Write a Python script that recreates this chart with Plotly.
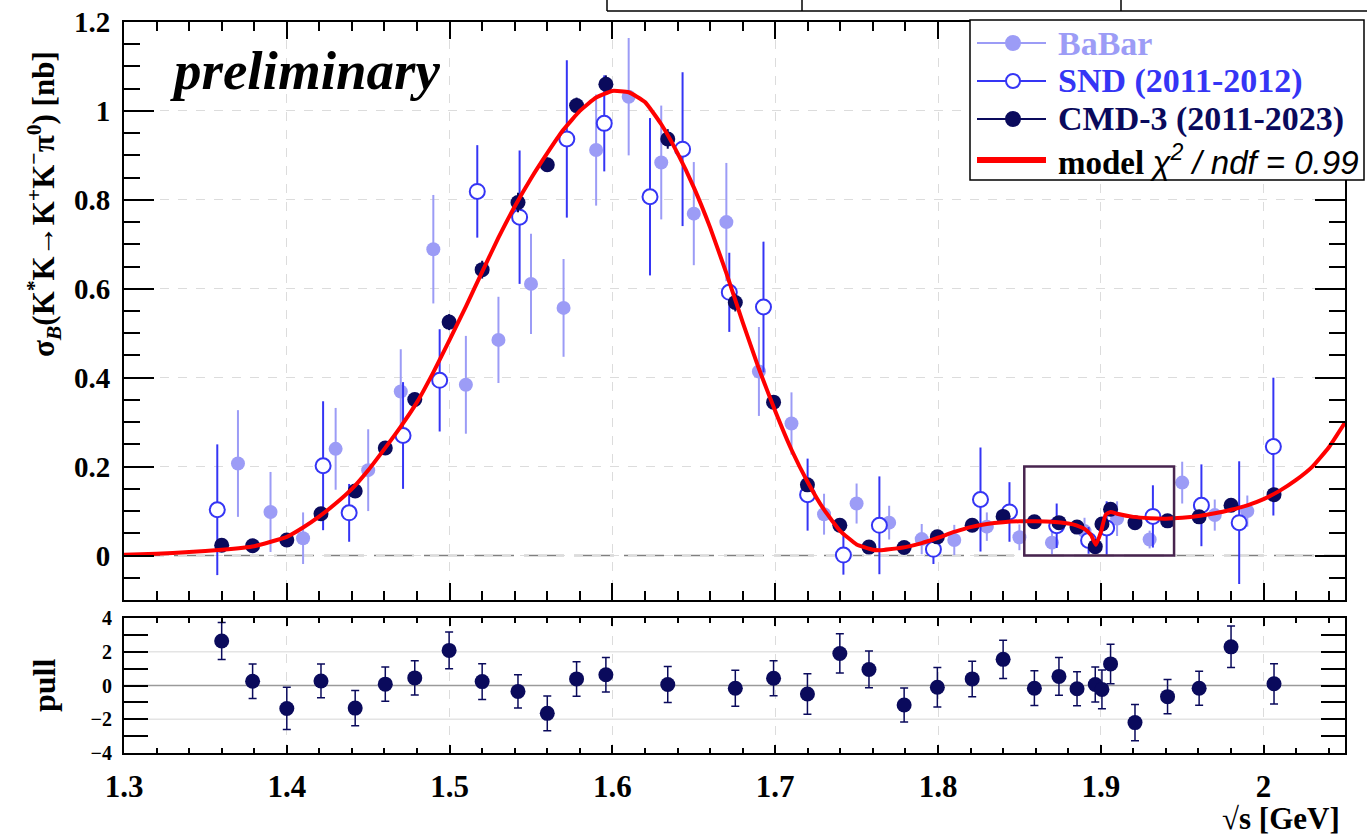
import plotly.graph_objects as go

# ---------------- data ----------------
# CMD-3 (2011-2023) cross section [nb]
cmd_x = [1.360, 1.379, 1.400, 1.421, 1.442, 1.4605, 1.4786, 1.4997, 1.520, 1.542,
         1.560, 1.578, 1.596, 1.634, 1.6755, 1.699, 1.7198, 1.7397, 1.7576, 1.7792,
         1.7996, 1.821, 1.840, 1.8592, 1.8743, 1.8854, 1.8966, 1.9007, 1.906, 1.921,
         1.941, 1.9604, 1.980, 2.0064]
cmd_y = [0.023, 0.022, 0.035, 0.094, 0.145, 0.242, 0.351, 0.525, 0.643, 0.794,
         0.879, 1.012, 1.060, 0.937, 0.569, 0.345, 0.159, 0.068, 0.019, 0.018,
         0.042, 0.068, 0.088, 0.076, 0.074, 0.064, 0.020, 0.071, 0.104, 0.074,
         0.078, 0.087, 0.113, 0.137]
cmd_err = [0.004, 0.008, 0.006, 0.010, 0.012, 0.012, 0.015, 0.018, 0.020, 0.022,
           0.016, 0.018, 0.020, 0.022, 0.020, 0.015, 0.012, 0.008, 0.006, 0.005,
           0.006, 0.008, 0.009, 0.008, 0.008, 0.009, 0.008, 0.010, 0.010, 0.008,
           0.009, 0.010, 0.012, 0.014]

# pulls of CMD-3 points with respect to the model
pull_y = [2.64, 0.25, -1.36, 0.27, -1.34, 0.08, 0.45, 2.08, 0.23, -0.35,
          -1.65, 0.39, 0.64, 0.06, -0.16, 0.43, -0.50, 1.90, 0.95, -1.16,
          -0.10, 0.39, 1.55, -0.16, 0.54, -0.19, 0.06, -0.23, 1.28, -2.20,
          -0.66, -0.16, 2.29, 0.10]
pull_err = [1.10, 1.02, 1.25, 1.00, 1.04, 1.02, 1.01, 1.09, 1.06, 0.99,
            1.03, 1.02, 1.02, 1.07, 1.07, 1.04, 1.20, 1.16, 1.09, 1.01,
            1.17, 1.05, 1.13, 1.03, 1.12, 1.01, 1.04, 1.15, 1.17, 1.08,
            1.02, 1.01, 1.23, 1.19]

# SND (2011-2012)
snd_x = [1.3573, 1.4223, 1.4383, 1.4714, 1.4939, 1.517, 1.543, 1.572, 1.595, 1.6231,
         1.6431, 1.6718, 1.6928, 1.7199, 1.7419, 1.764, 1.7972, 1.8261, 1.8439, 1.8729,
         1.8925, 1.9036, 1.932, 1.9618, 1.985, 2.006]
snd_y = [0.103, 0.202, 0.096, 0.270, 0.394, 0.819, 0.761, 0.937, 0.972, 0.807,
         0.914, 0.592, 0.559, 0.137, 0.001, 0.068, 0.014, 0.126, 0.098, 0.067,
         0.034, 0.062, 0.088, 0.113, 0.074, 0.245]
snd_err = [0.147, 0.145, 0.065, 0.120, 0.115, 0.104, 0.150, 0.177, 0.108, 0.177,
           0.173, 0.089, 0.147, 0.081, 0.044, 0.110, 0.033, 0.117, 0.067, 0.050,
           0.030, 0.060, 0.070, 0.092, 0.138, 0.155]

# BaBar
babar_x = [1.37, 1.39, 1.41, 1.43, 1.45, 1.47, 1.49, 1.51, 1.53, 1.55,
           1.57, 1.59, 1.61, 1.63, 1.65, 1.67, 1.69, 1.71, 1.73, 1.75,
           1.77, 1.79, 1.81, 1.83, 1.85, 1.87, 1.89, 1.91, 1.93, 1.95,
           1.97, 1.99]
babar_y = [0.207, 0.098, 0.039, 0.240, 0.192, 0.369, 0.689, 0.384, 0.485, 0.611,
           0.557, 0.912, 1.032, 0.884, 0.769, 0.750, 0.414, 0.297, 0.093, 0.117,
           0.074, 0.037, 0.035, 0.065, 0.041, 0.029, 0.055, 0.083, 0.036, 0.164,
           0.091, 0.100]
babar_err = [0.120, 0.090, 0.058, 0.092, 0.092, 0.095, 0.122, 0.110, 0.097, 0.113,
             0.110, 0.125, 0.132, 0.128, 0.116, 0.133, 0.100, 0.070, 0.046, 0.045,
             0.038, 0.034, 0.034, 0.032, 0.029, 0.026, 0.030, 0.039, 0.020, 0.047,
             0.035, 0.035]

# model curve
model_x = [1.30, 1.32, 1.34, 1.36, 1.38, 1.40, 1.41, 1.42, 1.43, 1.44,
           1.45, 1.46, 1.47, 1.48, 1.49, 1.50, 1.51, 1.52, 1.53, 1.54,
           1.55, 1.56, 1.57, 1.58, 1.59, 1.60, 1.61, 1.62, 1.63, 1.64,
           1.65, 1.66, 1.67, 1.68, 1.69, 1.70, 1.71, 1.72, 1.73, 1.74,
           1.75, 1.76, 1.765, 1.77, 1.78, 1.79, 1.80, 1.81, 1.82, 1.83,
           1.84, 1.85, 1.86, 1.87, 1.88, 1.885, 1.89, 1.894, 1.897, 1.900,
           1.903, 1.906, 1.91, 1.92, 1.93, 1.94, 1.95, 1.96, 1.97, 1.98,
           1.99, 2.00, 2.01, 2.02, 2.03, 2.04, 2.05]
model_y = [0.0015, 0.004, 0.008, 0.013, 0.021, 0.042, 0.063, 0.088, 0.117, 0.150,
           0.192, 0.240, 0.290, 0.345, 0.412, 0.485, 0.560, 0.638, 0.715, 0.785,
           0.848, 0.905, 0.958, 1.000, 1.030, 1.045, 1.042, 1.020, 0.970, 0.905,
           0.828, 0.738, 0.635, 0.525, 0.420, 0.325, 0.238, 0.165, 0.103, 0.055,
           0.025, 0.013, 0.012, 0.014, 0.019, 0.028, 0.040, 0.053, 0.064, 0.071,
           0.075, 0.077, 0.077, 0.076, 0.072, 0.068, 0.060, 0.046, 0.024, 0.052,
           0.092, 0.098, 0.094, 0.087, 0.084, 0.083, 0.085, 0.089, 0.095, 0.103,
           0.113, 0.127, 0.146, 0.170, 0.200, 0.243, 0.299]

# highlighted region around the dip
box_x = [1.853, 1.945]
box_y = [0.0, 0.2]

# ---------------- styling ----------------
W, H = 1367, 836
C_BABAR = "#9c9cf6"
C_SND = "#3535f5"
C_CMD = "#0a0a5c"
C_MODEL = "#ff0000"
SERIF = "Liberation Serif, Times New Roman, serif"


def px(xp):
    return xp / W


def py(yp):
    return 1 - yp / H


fig = go.Figure()

fig.add_trace(go.Scatter(
    x=babar_x, y=babar_y, mode="markers", xaxis="x", yaxis="y",
    error_y=dict(type="data", array=babar_err, color=C_BABAR, thickness=2, width=0),
    marker=dict(color=C_BABAR, size=14), showlegend=False))

fig.add_trace(go.Scatter(
    x=snd_x, y=snd_y, mode="markers", xaxis="x", yaxis="y",
    error_y=dict(type="data", array=snd_err, color=C_SND, thickness=2, width=0),
    marker=dict(color="white", size=15, line=dict(color=C_SND, width=2)),
    showlegend=False))

fig.add_trace(go.Scatter(
    x=cmd_x, y=cmd_y, mode="markers", xaxis="x", yaxis="y",
    error_y=dict(type="data", array=cmd_err, color=C_CMD, thickness=2, width=0),
    marker=dict(color=C_CMD, size=15), showlegend=False))

fig.add_trace(go.Scatter(
    x=model_x, y=model_y, mode="lines", xaxis="x", yaxis="y",
    line=dict(color=C_MODEL, width=4, shape="spline", smoothing=0.4),
    showlegend=False))

fig.add_trace(go.Scatter(
    x=cmd_x, y=pull_y, mode="markers", xaxis="x2", yaxis="y2",
    error_y=dict(type="data", array=pull_err, color=C_CMD, thickness=1.5, width=4),
    marker=dict(color=C_CMD, size=15), showlegend=False))

x_dom = [px(124), px(1345)]
axis_common = dict(
    showline=True, linecolor="black", linewidth=2, mirror="allticks",
    ticks="inside", tickcolor="black", tickwidth=2, zeroline=False,
    automargin=False,
    tickfont=dict(family=SERIF, size=29, color="black", weight="bold"),
)

fig.update_layout(
    width=W, height=H, margin=dict(l=0, r=0, t=0, b=0, pad=0, autoexpand=False),
    paper_bgcolor="white", plot_bgcolor="white",
    xaxis=dict(domain=x_dom, anchor="y", range=[1.3, 2.05], dtick=0.1, tick0=1.3,
               ticklen=17, showticklabels=False,
               showgrid=True, gridcolor="#dcdcdc", griddash="dash", gridwidth=1,
               minor=dict(dtick=0.02, tick0=1.3, ticks="inside", ticklen=9,
                          tickwidth=1.5, tickcolor="black", showgrid=False),
               **axis_common),
    yaxis=dict(domain=[py(600), py(22)], anchor="x", range=[-0.1, 1.2],
               tickvals=[0, 0.2, 0.4, 0.6, 0.8, 1.0, 1.2], ticklen=30,
               ticklabelstandoff=6,
               showgrid=True, gridcolor="#dcdcdc", griddash="dash", gridwidth=1,
               minor=dict(dtick=0.05, tick0=0, ticks="inside", ticklen=16,
                          tickwidth=1.5, tickcolor="black", showgrid=False),
               **axis_common),
    xaxis2=dict(domain=x_dom, anchor="y2", range=[1.3, 2.05], dtick=0.1, tick0=1.3,
                ticklen=8, ticklabelstandoff=5,
                showgrid=True, gridcolor="#dcdcdc", griddash="dash", gridwidth=1,
                minor=dict(dtick=0.02, tick0=1.3, ticks="inside", ticklen=5,
                           tickwidth=1.5, tickcolor="black", showgrid=False),
                **axis_common),
    yaxis2=dict(domain=[py(753), py(618)], anchor="x2", range=[-4, 4],
                tickvals=[-4, -2, 0, 2, 4], ticklen=24, ticklabelstandoff=6,
                showgrid=False,
                minor=dict(dtick=1, tick0=0, ticks="inside", ticklen=24,
                           tickwidth=1.5, tickcolor="black", showgrid=False),
                **axis_common),
)
fig.layout.xaxis2.tickfont.size = 31
fig.layout.yaxis2.tickfont.size = 20

shapes = []
# dashed zero line of the cross-section panel
shapes.append(dict(type="line", xref="x domain", yref="y", x0=0, x1=1, y0=0, y1=0,
                   line=dict(color="#808080", width=1.5, dash="40px,10px"), layer="below"))
# pull panel reference lines
for v, col in [(2, "#e4e4e4"), (-2, "#e4e4e4"), (0, "#9a9a9a")]:
    shapes.append(dict(type="line", xref="x2 domain", yref="y2", x0=0, x1=1, y0=v, y1=v,
                       line=dict(color=col, width=1.5), layer="below"))
# region around the dip
shapes.append(dict(type="rect", xref="x", yref="y", x0=box_x[0], x1=box_x[1],
                   y0=box_y[0], y1=box_y[1], line=dict(color="#48254f", width=2.5),
                   fillcolor="rgba(0,0,0,0)", layer="above"))

# table edge along the top of the page
shapes.append(dict(type="line", xref="paper", yref="paper", x0=px(607), x1=1,
                   y0=py(11), y1=py(11), line=dict(color="black", width=1.5)))
for xv in [607, 802, 1121]:
    shapes.append(dict(type="line", xref="paper", yref="paper", x0=px(xv), x1=px(xv),
                       y0=py(0), y1=py(11), line=dict(color="black", width=1.5)))

# legend box
shapes.append(dict(type="rect", xref="paper", yref="paper", x0=px(970), x1=px(1364),
                   y0=py(180), y1=py(20), fillcolor="white",
                   line=dict(color="black", width=1.5), layer="above"))

legend_rows = [("BaBar", C_BABAR, "filled", 43),
               ("SND (2011-2012)", C_SND, "open", 81),
               ("CMD-3 (2011-2023)", C_CMD, "filled", 119)]
annotations = []
for label, col, kind, yrow in legend_rows:
    shapes.append(dict(type="line", xref="paper", yref="paper", x0=px(977), x1=px(1046),
                       y0=py(yrow), y1=py(yrow), line=dict(color=col, width=2),
                       layer="above"))
    shapes.append(dict(type="circle", xref="paper", yref="paper",
                       xsizemode="pixel", ysizemode="pixel",
                       xanchor=px(1013), yanchor=py(yrow), x0=-7, x1=7, y0=-7, y1=7,
                       fillcolor=col if kind == "filled" else "white",
                       line=dict(color=col, width=2), layer="above"))
    annotations.append(dict(xref="paper", yref="paper", x=px(1056), y=py(yrow),
                            xanchor="left", yanchor="middle", showarrow=False,
                            text=label, font=dict(family=SERIF, size=34, color=col,
                                                  weight="bold")))
shapes.append(dict(type="line", xref="paper", yref="paper", x0=px(977), x1=px(1046),
                   y0=py(160), y1=py(160), line=dict(color=C_MODEL, width=6),
                   layer="above"))
annotations.append(dict(
    xref="paper", yref="paper", x=px(1056), y=py(160), xanchor="left", yanchor="middle",
    showarrow=False,
    text=("<b>model</b> <span style='font-family:Liberation Sans'><i>"
          "\u03c7<sup>2</sup> / ndf = 0.99</i></span>"),
    font=dict(family=SERIF, size=33, color="black")))

# labels
annotations.append(dict(
    xref="paper", yref="paper", x=px(168), y=py(70), xanchor="left", yanchor="middle",
    showarrow=False, text="preliminary",
    font=dict(family=SERIF, size=55, color="black", weight="bold", style="italic")))
annotations.append(dict(
    xref="paper", yref="paper", x=px(44), y=py(204), xanchor="center", yanchor="middle",
    showarrow=False, textangle=-90,
    text=("\u03c3<sub><i>B</i></sub>(K<sup>*</sup>K\u2192K<sup>+</sup>K<sup>\u2212</sup>"
          "\u03c0<sup>0</sup>) [nb]"),
    font=dict(family=SERIF, size=31, color="black", weight="bold")))
annotations.append(dict(
    xref="paper", yref="paper", x=px(44), y=py(686), xanchor="center", yanchor="middle",
    showarrow=False, textangle=-90, text="pull",
    font=dict(family=SERIF, size=32, color="black", weight="bold")))
annotations.append(dict(
    xref="paper", yref="paper", x=px(1342), y=py(818), xanchor="right", yanchor="middle",
    showarrow=False, text="\u221as [GeV]",
    font=dict(family=SERIF, size=31, color="black", weight="bold")))

fig.update_layout(shapes=shapes, annotations=annotations)
fig.write_html("out.html")
